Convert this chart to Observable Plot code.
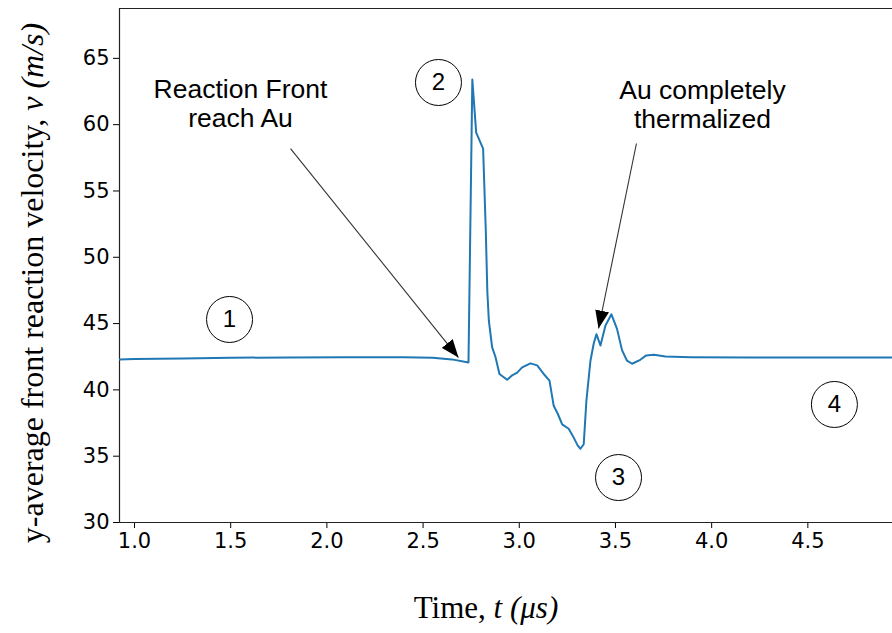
<!DOCTYPE html>
<html>
<head>
<meta charset="utf-8">
<script src="https://cdn.jsdelivr.net/npm/d3@7"></script>
<script src="https://cdn.jsdelivr.net/npm/@observablehq/plot@0.6"></script>
<style>
  html, body { margin: 0; padding: 0; background: white; }
</style>
</head>
<body>
<div id="chart"></div>
<script>
// ---- data ----
const time = [0.92, 1.0, 1.25, 1.5, 1.8, 2.1, 2.4, 2.55, 2.65, 2.736, 2.756, 2.776, 2.812, 2.826, 2.834, 2.842,
  2.859, 2.876, 2.897, 2.937, 2.963, 2.989, 3.015, 3.058, 3.093, 3.127, 3.157, 3.179, 3.2, 3.223, 3.257, 3.283,
  3.304, 3.318, 3.335, 3.349, 3.37, 3.387, 3.401, 3.422, 3.448, 3.479, 3.508, 3.534, 3.56, 3.586, 3.629, 3.66,
  3.7, 3.76, 3.89, 4.2, 4.6, 4.95];
const velocity = [42.3, 42.32, 42.37, 42.42, 42.45, 42.47, 42.47, 42.42, 42.3, 42.07, 63.4, 59.4, 58.2, 52.0, 47.4, 45.2,
  43.2, 42.5, 41.2, 40.76, 41.1, 41.3, 41.7, 42.0, 41.85, 41.2, 40.7, 38.8, 38.2, 37.4, 37.07, 36.4,
  35.8, 35.56, 35.9, 39.2, 42.2, 43.5, 44.2, 43.35, 44.86, 45.7, 44.6, 43.0, 42.2, 41.97, 42.27, 42.6,
  42.65, 42.52, 42.47, 42.45, 42.45, 42.45];

const xTicks = [1.0, 1.5, 2.0, 2.5, 3.0, 3.5, 4.0, 4.5];
const yTicks = [30, 35, 40, 45, 50, 55, 60, 65];
const xDomain = [0.922, 4.94];
const yDomain = [30, 68.76];

const stageLabels = ["1", "2", "3", "4"];
const stageX = [1.494, 2.58, 3.516, 4.638];
const stageY = [45.31, 63.18, 33.39, 38.9];

const noteTexts = ["Reaction Front\nreach Au", "Au completely\nthermalized"];
const noteX = [1.551, 3.952];
const noteY = [61.62, 61.55];
const arrowFromX = [1.811, 3.609];
const arrowFromY = [58.2, 58.58];
const arrowToX = [2.684, 3.412];
const arrowToY = [42.44, 44.63];

const xLabel = ["Time, ", "t (μs)"];
const yLabel = ["y-average front reaction velocity, ", "v (m/s)"];

// ---- tables built from the arrays ----
const series = time.map((t, i) => ({t, v: velocity[i]}));
const stages = stageLabels.map((s, i) => ({s, x: stageX[i], y: stageY[i]}));
const notes = noteTexts.map((s, i) => ({s, x: noteX[i], y: noteY[i]}));
const arrows = arrowFromX.map((x1, i) => ({x1, y1: arrowFromY[i], x2: arrowToX[i], y2: arrowToY[i]}));

const W = 892, H = 633, mL = 119, mR = 0, mT = 8, mB = 111;

const svg = Plot.plot({
  width: W, height: H,
  marginLeft: mL, marginRight: mR, marginTop: mT, marginBottom: mB,
  style: {fontFamily: "DejaVu Sans", fontSize: "21px", color: "black", background: "white"},
  x: {domain: xDomain, ticks: xTicks, tickFormat: d3.format(".1f"), tickSize: 6, tickPadding: 5, label: null},
  y: {domain: yDomain, ticks: yTicks, tickSize: 6, tickPadding: 4, label: null},
  marks: [
    Plot.ruleX([xDomain[0]], {stroke: "#222", strokeWidth: 1.2}),
    Plot.ruleY([yDomain[0], yDomain[1]], {stroke: "#222", strokeWidth: 1.2}),
    Plot.line(series, {x: "t", y: "v", stroke: "#1f77b4", strokeWidth: 2, clip: true}),
    Plot.link(arrows, {x1: "x1", y1: "y1", x2: "x2", y2: "y2", stroke: "#333", strokeWidth: 1.1}),
    Plot.text(notes, {x: "x", y: "y", text: "s", fontFamily: "Liberation Sans", fontSize: 26.5,
      lineHeight: 1.1, lineAnchor: "middle", textAnchor: "middle", fill: "black"}),
    Plot.dot(stages, {x: "x", y: "y", r: 23, stroke: "black", strokeWidth: 1, fill: "white"}),
    Plot.text(stages, {x: "x", y: "y", text: "s", fontFamily: "Liberation Sans", fontSize: 24, fill: "black"})
  ]
});

// filled arrowheads for the annotation arrows
const sel = d3.select(svg);
const defs = sel.insert("defs", ":first-child");
defs.append("marker")
  .attr("id", "ahead")
  .attr("viewBox", "0 -7 18 14")
  .attr("refX", 18).attr("refY", 0)
  .attr("markerWidth", 18).attr("markerHeight", 14)
  .attr("markerUnits", "userSpaceOnUse")
  .attr("orient", "auto")
  .append("path").attr("d", "M0,-7L18,0L0,7Z").attr("fill", "black");
sel.selectAll('g[aria-label="link"] path').attr("marker-end", "url(#ahead)");

// axis titles with italic parts
const xt = sel.append("text")
  .attr("x", 486).attr("y", H - 15)
  .attr("text-anchor", "middle")
  .style("font-family", "Liberation Serif").style("font-size", "31px").attr("fill", "black");
xt.append("tspan").text(xLabel[0]);
xt.append("tspan").style("font-style", "italic").text(xLabel[1]);

const yt = sel.append("text")
  .attr("transform", `translate(32,283) rotate(-90)`)
  .attr("text-anchor", "middle").attr("dominant-baseline", "central")
  .style("font-family", "Liberation Serif").style("font-size", "32px").attr("fill", "black");
yt.append("tspan").text(yLabel[0]);
yt.append("tspan").style("font-style", "italic").text(yLabel[1]);

document.getElementById("chart").appendChild(svg);
</script>
</body>
</html>
